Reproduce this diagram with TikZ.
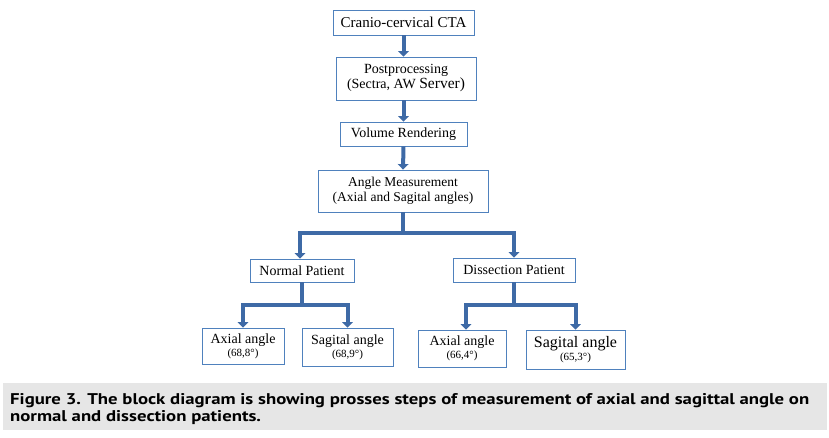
\documentclass[tikz,border=0pt]{standalone}
\usepackage{fontspec}
\setmainfont{Liberation Serif}
\newfontfamily\captionfont[FakeStretch=1.21]{PT Sans}
\usetikzlibrary{arrows.meta, positioning}
\definecolor{boxblue}{RGB}{79,129,189}
\definecolor{flowblue}{RGB}{62,106,166}
\definecolor{capgray}{RGB}{230,230,230}

\begin{document}
\begin{tikzpicture}[
      x=1pt, y=-1pt,
      stepbox/.style={rectangle, draw=boxblue, line width=0.8pt, fill=white,
        align=center, inner sep=0pt, font=\fontsize{14}{15}\selectfont},
      arrow/.style={-{Triangle[width=10.5pt,length=5.5pt]}, line width=4pt,
        draw=flowblue, line join=miter},
      trunk/.style={line width=4pt, draw=flowblue}
    ]
      \useasboundingbox (0,0) rectangle (829,437);

      % Main chain
      \node[stepbox, minimum width=141pt, minimum height=25pt, font=\fontsize{15}{16}\selectfont] (cta) at (403.5,22.5) {Cranio-cervical CTA};
      \node[stepbox, minimum width=140pt, minimum height=43pt] (post) at (406,78.5)
        {Postprocessing\\(Sectra, AW {\fontsize{15.5}{15}\selectfont Server)}};
      \node[stepbox, minimum width=127pt, minimum height=24pt] (volume) at (403.5,134) {Volume Rendering};
      \node[stepbox, minimum width=170pt, minimum height=42pt, font=\fontsize{13.5}{15}\selectfont] (angle) at (403,191)
        {Angle Measurement\\(Axial and Sagital angles)};

      % Patient groups
      \node[stepbox, minimum width=104pt, minimum height=23pt] (normal) at (302,270.5) {Normal Patient};
      \node[stepbox, minimum width=122pt, minimum height=24pt] (dissect) at (514,270) {Dissection Patient};

      % Results
      \node[stepbox, minimum width=82pt, minimum height=36pt] (axialN) at (243,346)
        {Axial angle\\[-2pt]{\fontsize{11}{11}\selectfont (68,8°)}};
      \node[stepbox, minimum width=91pt, minimum height=38pt] (sagitalN) at (347.5,347)
        {Sagital angle\\[-2pt]{\fontsize{11}{11}\selectfont (68,9°)}};
      \node[stepbox, minimum width=88pt, minimum height=37pt] (axialD) at (462,348.5)
        {Axial angle\\[-2pt]{\fontsize{11}{11}\selectfont (66,4°)}};
      \node[stepbox, minimum width=99pt, minimum height=39pt] (sagitalD) at (575.5,349.5)
        {{\fontsize{16}{16}\selectfont Sagital angle}\\[-2pt]{\fontsize{11}{11}\selectfont (65,3°)}};

      % Split points
      \coordinate (split) at (403,233);
      \coordinate (splitN) at (302,305);
      \coordinate (splitD) at (514,305);

      % Connections
      \draw[arrow] (cta.south) -- (cta.south |- post.north);
      \draw[arrow] (volume.north |- post.south) -- (volume.north);
      \draw[arrow] (volume.south) -- (angle.north);
      \draw[trunk] (angle.south) -- (split);
      \draw[arrow] (split) -| ([xshift=-2pt]normal.north);
      \draw[arrow] (split) -| (dissect.north);
      \draw[trunk] (normal.south) -- (splitN);
      \draw[arrow] (splitN) -| (axialN.north);
      \draw[arrow] (splitN) -| (sagitalN.north);
      \draw[trunk] (dissect.south) -- (splitD);
      \draw[arrow] (splitD) -| ([xshift=4pt]axialD.north);
      \draw[arrow] (splitD) -| (sagitalD.north);

      % Caption
      \fill[capgray] (3,383) rectangle (827,430);
      \node[anchor=north west, align=left, inner sep=0pt,
        font=\captionfont\bfseries\fontsize{15.5}{17.5}\selectfont] (caption) at (10,393)
        {Figure 3. The block diagram is showing prosses steps of measurement of axial and sagittal angle on\\
         normal and dissection patients.};
    \end{tikzpicture}
\end{document}
